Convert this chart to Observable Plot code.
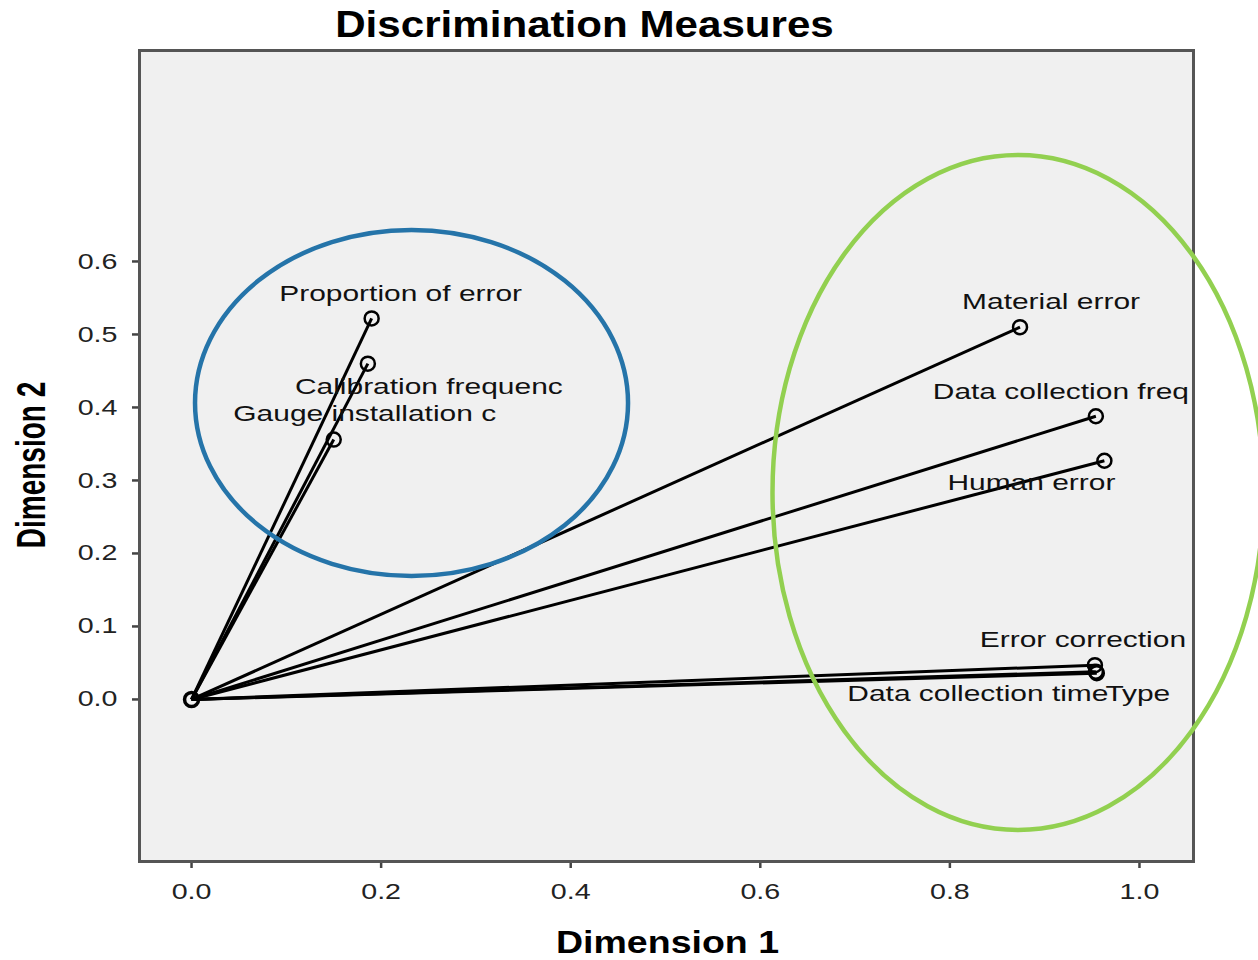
<!DOCTYPE html>
<html>
<head>
<meta charset="utf-8">
<script src="https://cdn.jsdelivr.net/npm/d3@7"></script>
<script src="https://cdn.jsdelivr.net/npm/@observablehq/plot@0.6"></script>
<style>
  html, body { margin: 0; padding: 0; background: #ffffff; }
  #chart svg text { font-family: "Liberation Sans", Arial, sans-serif; }
</style>
</head>
<body>
<div id="chart"></div>
<script>
// ---- data ----
const variables = ["Proportion of error", "Calibration frequenc", "Gauge installation c",
  "Material error", "Data collection freq", "Human error",
  "Error correction", "Data collection time", "Type"];
const dim1 = [0.190, 0.186, 0.150, 0.874, 0.954, 0.963, 0.953, 0.954, 0.955];
const dim2 = [0.522, 0.460, 0.356, 0.510, 0.388, 0.327, 0.047, 0.038, 0.036];
const xTicks = [0.0, 0.2, 0.4, 0.6, 0.8, 1.0];
const yTicks = [0.0, 0.1, 0.2, 0.3, 0.4, 0.5, 0.6];
// annotation ellipses (data units): centre x, centre y, radius x, radius y
const ellipseNames = ["blue group", "green group"];
const ellipseCx = [0.2326, 0.8724];
const ellipseCy = [0.4055, 0.2829];
const ellipseRx = [0.2284, 0.2590];
const ellipseRy = [0.2370, 0.4623];

// ---- layout (label offsets in pixels) ----
const labelDx = [29, 61, 31, 31, -35, -73, -12, -118, 41];
const labelDy = [-24, 23, -26, -25, -24, 22, -25, 22, 21];
const ellipseColors = ["#2574a9", "#92d050"];

const rows = variables.map((v, i) => ({name: v, x: dim1[i], y: dim2[i]}));

const labelMarks = rows.map((r, i) => Plot.text([r], {
  x: "x", y: "y", text: "name", dx: labelDx[i], dy: labelDy[i],
  fontSize: 22, fill: "#111", textAnchor: "middle", lineAnchor: "middle", className: "lbl"
}));

const plot = Plot.plot({
  width: 1258,
  height: 960,
  marginLeft: 139,
  marginRight: 65,
  marginTop: 50,
  marginBottom: 99,
  style: {background: "#ffffff", overflow: "visible"},
  x: {domain: [-0.0549, 1.057]},
  y: {domain: [-0.222, 0.889]},
  marks: [
    Plot.frame({fill: "#f0f0f0", stroke: null}),
    Plot.link(rows, {x1: d => 0, y1: d => 0, x2: "x", y2: "y", stroke: "#000", strokeWidth: 3}),
    Plot.dot(rows, {x: "x", y: "y", r: 7, stroke: "#000", strokeWidth: 2.5, fill: "none"}),
    Plot.dot([{x: 0, y: 0}], {x: "x", y: "y", r: 7, stroke: "#000", strokeWidth: 3.5, fill: "none"}),
    ...labelMarks,
    Plot.axisX({ticks: xTicks, tickFormat: d3.format(".1f"), tickSize: 7, tickPadding: 15,
      stroke: "#444", strokeWidth: 2.5, fontSize: 22, fill: "#222", label: null, className: "tick"}),
    Plot.axisY({ticks: yTicks, tickFormat: d3.format(".1f"), tickSize: 7, tickPadding: 15,
      stroke: "#444", strokeWidth: 2.5, fontSize: 22, fill: "#222", label: null, className: "tick"}),
    Plot.frame({stroke: "#555", strokeWidth: 3}),
    Plot.text(["Discrimination Measures"], {frameAnchor: "top", dx: -82, dy: -25.5,
      fontSize: 36, fontWeight: "bold", fill: "#000", lineAnchor: "middle", className: "title"}),
    Plot.text(["Dimension 1"], {frameAnchor: "bottom", dx: 1, dy: 82,
      fontSize: 31, fontWeight: "bold", fill: "#000", lineAnchor: "middle", className: "xlab"})
  ]
});

document.getElementById("chart").appendChild(plot);
const svg = d3.select(plot);

// widen the glyphs horizontally, as in the original picture
function widen(sel, factor) {
  svg.selectAll(sel).each(function () {
    const w = this.getComputedTextLength();
    this.setAttribute("textLength", (w * factor).toFixed(1));
    this.setAttribute("lengthAdjust", "spacingAndGlyphs");
  });
}
widen(".lbl text", 1.36);
widen(".tick text", 1.3);
widen(".title text", 1.17);
widen(".xlab text", 1.21);

// annotation ellipses, positioned through the plot's scales
const sx = plot.scale("x"), sy = plot.scale("y");
const gE = svg.append("g").attr("class", "ellipses");
ellipseNames.forEach((n, i) => {
  const cx = sx.apply(ellipseCx[i]), cy = sy.apply(ellipseCy[i]);
  const rx = Math.abs(sx.apply(ellipseCx[i] + ellipseRx[i]) - cx);
  const ry = Math.abs(sy.apply(ellipseCy[i] + ellipseRy[i]) - cy);
  gE.append("ellipse").attr("cx", cx).attr("cy", cy).attr("rx", rx).attr("ry", ry)
    .attr("fill", "none").attr("stroke", ellipseColors[i]).attr("stroke-width", 4.5);
});

// y axis title (stretched like the original)
svg.append("text")
  .attr("transform", "translate(30,465) rotate(-90) scale(1,1.45)")
  .attr("text-anchor", "middle")
  .attr("dominant-baseline", "central")
  .attr("font-size", 28)
  .attr("font-weight", "bold")
  .attr("fill", "#000")
  .text("Dimension 2");
</script>
</body>
</html>
